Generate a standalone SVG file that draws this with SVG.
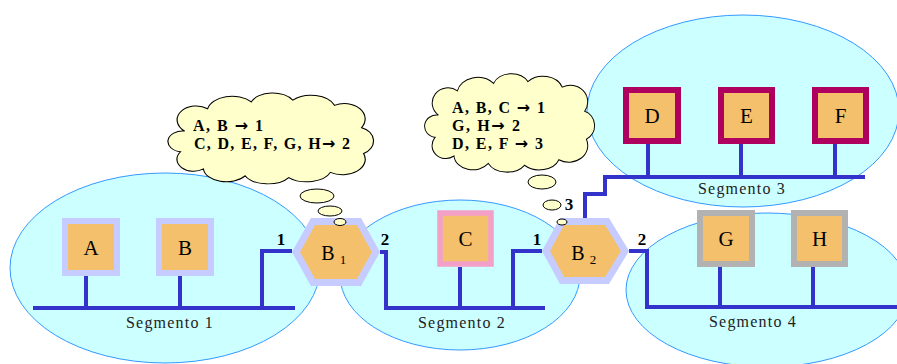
<svg xmlns="http://www.w3.org/2000/svg" width="897" height="364" viewBox="0 0 897 364">
<defs>
<style>
.seg{fill:#CCFFFF;stroke:#3399FF;stroke-width:1}
.bus{fill:none;stroke:#3333CC;stroke-width:4;stroke-linejoin:miter}
.cloud{fill:#FFFFCC;stroke:#000;stroke-width:1}
.box{fill:#F4C06C;stroke-width:6}
.lbl{font-family:"Liberation Serif",serif;font-size:21px;fill:#000;text-anchor:middle}
.port{font-family:"Liberation Serif",serif;font-size:17px;font-weight:bold;fill:#000;text-anchor:middle}
.segt{font-family:"Liberation Serif",serif;font-size:16px;letter-spacing:1.2px;fill:#222;text-anchor:middle}
.ct{font-family:"Liberation Serif","DejaVu Serif",serif;font-size:16px;font-weight:bold;fill:#000}
.arr{font-family:"DejaVu Sans",sans-serif;font-weight:bold;font-size:16px}
.hex{fill:#F4C06C;stroke:#C6CCFF;stroke-width:7;stroke-linejoin:miter}
</style>
<path id="cloudShape" d="M18,42 A18,16 0 0 1 40,16 A24,18 0 0 1 82,8 A22,16 0 0 1 122,6 A24,18 0 0 1 162,12 A20,18 0 0 1 188,38 A16,16 0 0 1 190,68 A22,18 0 0 1 158,90 A24,16 0 0 1 118,96 A24,16 0 0 1 76,94 A22,16 0 0 1 36,86 A16,14 0 0 1 14,66 A14,12 0 0 1 18,42 Z"/>
</defs>

<g id="segments">
<ellipse class="seg" cx="165" cy="268" rx="155" ry="95"/>
<ellipse class="seg" cx="460" cy="275" rx="120" ry="75"/>
<ellipse class="seg" cx="743" cy="111" rx="156" ry="96"/>
<ellipse class="seg" cx="767" cy="290" rx="141" ry="77"/>
</g>

<g id="connectors">
<path class="bus" d="M33,308 H295 M86,276 V308 M180,276 V308 M262,308 V251 H292"/>
<path class="bus" d="M380,252 H386 V308 H545 M460,267 V308 M513,308 V251 H542"/>
<path class="bus" d="M585,218 V194 H605 V177 H865 M648,144 V177 M741,144 V177 M835,144 V177"/>
<path class="bus" d="M629,251 H647 V307 H897 M720,267 V307 M813,267 V307"/>
</g>

<g id="segment-labels">
<text class="segt" x="170" y="328">Segmento 1</text>
<text class="segt" x="462" y="328">Segmento 2</text>
<text class="segt" x="742" y="194">Segmento 3</text>
<text class="segt" x="753" y="327">Segmento 4</text>
</g>

<g id="node-A">
<rect class="box" x="65" y="221" width="52" height="52" stroke="#C6CCFF"/>
<text class="lbl" x="91" y="255">A</text>
</g>
<g id="node-B">
<rect class="box" x="159" y="221" width="52" height="52" stroke="#C6CCFF"/>
<text class="lbl" x="185" y="255">B</text>
</g>
<g id="node-C">
<rect class="box" x="440" y="213" width="51" height="51" stroke="#F2A0C8" style="stroke-width:5.5"/>
<text class="lbl" x="465.5" y="246">C</text>
</g>
<g id="node-D">
<rect class="box" x="626" y="90" width="52" height="51" stroke="#B0005F"/>
<text class="lbl" x="652" y="123">D</text>
</g>
<g id="node-E">
<rect class="box" x="721" y="90" width="51" height="51" stroke="#B0005F"/>
<text class="lbl" x="746.5" y="123">E</text>
</g>
<g id="node-F">
<rect class="box" x="815" y="90" width="51" height="51" stroke="#B0005F"/>
<text class="lbl" x="840.5" y="123">F</text>
</g>
<g id="node-G">
<rect class="box" x="700" y="213" width="52" height="51" stroke="#B2B2B2"/>
<text class="lbl" x="726" y="246">G</text>
</g>
<g id="node-H">
<rect class="box" x="794" y="213" width="51" height="51" stroke="#B2B2B2"/>
<text class="lbl" x="819.5" y="246">H</text>
</g>

<g id="node-B1">
<polygon class="hex" points="296,252 313,221.5 359,221.5 376,252 359,282.5 313,282.5"/>
<text class="lbl" x="328" y="260" style="font-size:20px">B</text>
<text x="343" y="264" style="font-family:'Liberation Serif',serif;font-size:13px;text-anchor:middle">1</text>
<text class="port" x="281" y="245">1</text>
<text class="port" x="385" y="245">2</text>
</g>

<g id="node-B2">
<polygon class="hex" points="546,251 562,221.5 607,221.5 625,251 607,280.5 562,280.5"/>
<text class="lbl" x="578" y="260" style="font-size:20px">B</text>
<text x="593" y="264" style="font-family:'Liberation Serif',serif;font-size:13px;text-anchor:middle">2</text>
<text class="port" x="537" y="245">1</text>
<text class="port" x="642" y="245">2</text>
<text class="port" x="569" y="210">3</text>
</g>

<g id="cloud1">
<use href="#cloudShape" class="cloud" transform="translate(166,95) scale(1.04,0.86)" style="stroke-width:1.1"/>
<ellipse class="cloud" cx="317" cy="196" rx="17" ry="7"/>
<ellipse class="cloud" cx="330" cy="211" rx="12" ry="5"/>
<ellipse class="cloud" cx="340" cy="222" rx="6" ry="3.5"/>
<text class="ct" x="193" y="131" textLength="70" lengthAdjust="spacing">A, B <tspan class="arr">→</tspan> 1</text>
<text class="ct" x="194" y="149" textLength="156" lengthAdjust="spacing">C, D, E, F, G, H<tspan class="arr">→</tspan> 2</text>
</g>

<g id="cloud2">
<use href="#cloudShape" class="cloud" transform="translate(423,76) scale(0.86,0.93)" style="stroke-width:1.1"/>
<ellipse class="cloud" cx="542" cy="182" rx="14" ry="7"/>
<ellipse class="cloud" cx="552" cy="205" rx="9" ry="5"/>
<ellipse class="cloud" cx="562" cy="222" rx="5" ry="3"/>
<text class="ct" x="452" y="113" textLength="93" lengthAdjust="spacing">A, B, C <tspan class="arr">→</tspan> 1</text>
<text class="ct" x="452" y="131" textLength="68" lengthAdjust="spacing">G, H<tspan class="arr">→</tspan> 2</text>
<text class="ct" x="452" y="149" textLength="91" lengthAdjust="spacing">D, E, F <tspan class="arr">→</tspan> 3</text>
</g>
</svg>
